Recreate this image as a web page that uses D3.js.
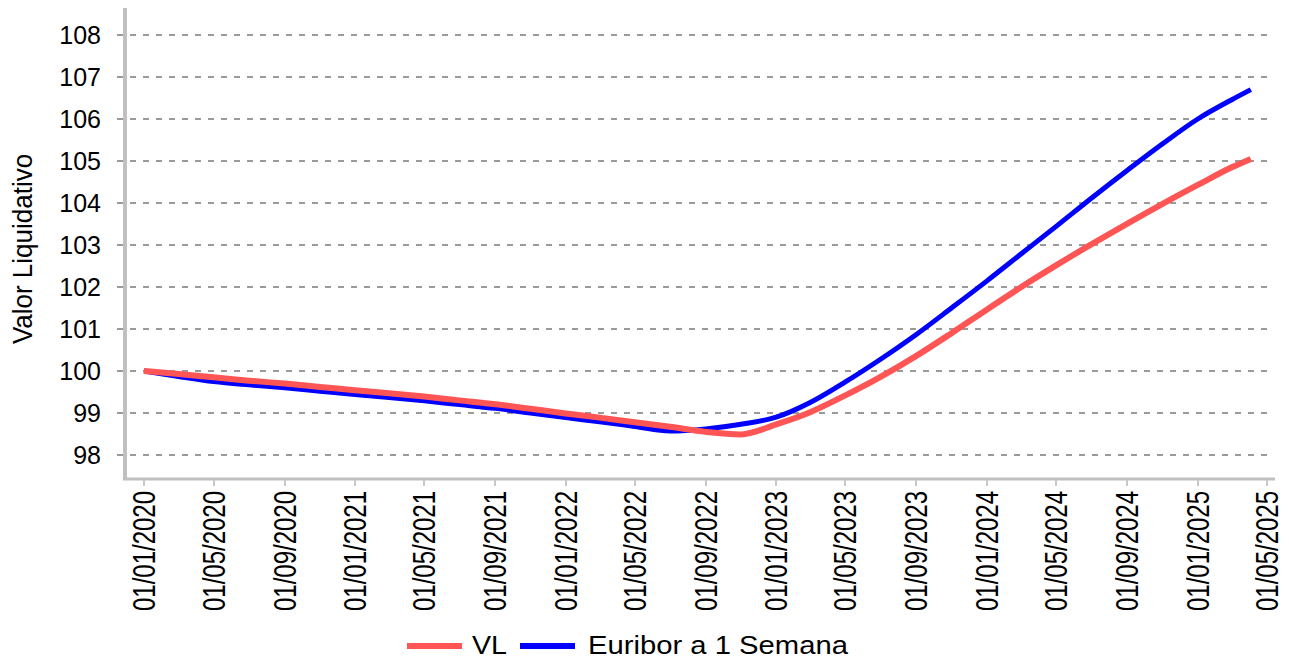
<!doctype html>
<html lang="pt">
<head>
<meta charset="UTF-8">
<title>Valor Liquidativo</title>
<script src="https://d3js.org/d3.v7.min.js"></script>
<style>
  body { margin: 0; background: #fff; }
  text { font-family: "Liberation Sans", Arial, sans-serif; fill: #000; }
</style>
</head>
<body>
<div id="chart-area"></div>
<script>

// data
const dates = [
  '2020-01-01', '2020-03-01', '2020-05-01', '2020-07-01', '2020-09-01', '2020-11-01',
  '2021-01-01', '2021-03-01', '2021-05-01', '2021-07-01', '2021-09-01', '2021-11-01',
  '2022-01-01', '2022-03-01', '2022-05-01', '2022-07-01', '2022-09-01', '2022-11-01',
  '2023-01-01', '2023-03-01', '2023-05-01', '2023-07-01', '2023-09-01', '2023-11-01',
  '2024-01-01', '2024-03-01', '2024-05-01', '2024-07-01', '2024-09-01', '2024-11-01',
  '2025-01-01', '2025-03-01', '2025-04-03'
];
const vl = [
  100.00, 99.93, 99.85, 99.77, 99.70, 99.62,
  99.54, 99.47, 99.39, 99.30, 99.21, 99.10,
  98.99, 98.89, 98.78, 98.67, 98.55, 98.49,
  98.73, 99.02, 99.42, 99.86, 100.36, 100.90,
  101.46, 102.00, 102.52, 103.02, 103.51, 103.98,
  104.43, 104.85, 105.05
];
const euribor = [
  100.00, 99.87, 99.75, 99.67, 99.60, 99.52,
  99.44, 99.37, 99.29, 99.20, 99.11, 99.00,
  98.89, 98.79, 98.68, 98.57, 98.62, 98.73,
  98.90, 99.25, 99.74, 100.28, 100.87, 101.50,
  102.14, 102.79, 103.45, 104.12, 104.78, 105.41,
  106.00, 106.46, 106.70
];
const seriesNames = ['VL', 'Euribor a 1 Semana'];
const seriesColors = ['#ff5555', '#0000ff'];
const yTicks = [98, 99, 100, 101, 102, 103, 104, 105, 106, 107, 108];
const xTicks = [
  '2020-01-01', '2020-05-01', '2020-09-01', '2021-01-01', '2021-05-01', '2021-09-01',
  '2022-01-01', '2022-05-01', '2022-09-01', '2023-01-01', '2023-05-01', '2023-09-01',
  '2024-01-01', '2024-05-01', '2024-09-01', '2025-01-01', '2025-05-01'
];
const yTitle = 'Valor Liquidativo';

const W = 1289, H = 660;
const parse = d3.utcParse('%Y-%m-%d');
const fmt = d3.utcFormat('%d/%m/%Y');

const svg = d3.select('#chart-area')
    .append('svg')
    .attr('width', W)
    .attr('height', H);

svg.append('rect').attr('width', W).attr('height', H).attr('fill', '#fff');

const x = d3.scaleUtc()
    .domain([parse(xTicks[0]), parse(xTicks[xTicks.length - 1])])
    .range([144, 1267]);

const y = d3.scaleLinear()
    .domain([97.452, 108.643])
    .range([478, 8]);

// grid
svg.append('g')
    .selectAll('line')
    .data(yTicks)
    .enter()
    .append('line')
        .attr('x1', 117)
        .attr('x2', 1272)
        .attr('y1', d => y(d))
        .attr('y2', d => y(d))
        .attr('stroke', '#9a9a9a')
        .attr('stroke-width', 2)
        .attr('stroke-dasharray', '6,7');

// y labels
svg.append('g')
    .selectAll('text')
    .data(yTicks)
    .enter()
    .append('text')
        .attr('x', 101)
        .attr('y', d => y(d))
        .attr('dy', '0.36em')
        .attr('text-anchor', 'end')
        .style('font-size', '25px')
        .text(d => d);

// axis lines
svg.append('line')
    .attr('x1', 125).attr('x2', 125).attr('y1', 8).attr('y2', 480)
    .attr('stroke', '#c0c0c0').attr('stroke-width', 4);
svg.append('line')
    .attr('x1', 123).attr('x2', 1275).attr('y1', 479).attr('y2', 479)
    .attr('stroke', '#c0c0c0').attr('stroke-width', 3);

// x ticks + rotated labels
const xg = svg.append('g')
    .selectAll('g')
    .data(xTicks.map(parse))
    .enter()
    .append('g')
        .attr('transform', d => `translate(${Math.round(x(d))},0)`);

xg.append('line')
    .attr('y1', 480).attr('y2', 486)
    .attr('stroke', '#c8c8c8').attr('stroke-width', 2);

xg.append('text')
    .attr('transform', 'translate(0,491) scale(1.28,1) rotate(-90)')
    .attr('text-anchor', 'end')
    .attr('dy', '0.36em')
    .style('font-size', '24px')
    .text(d => fmt(d));

// y title
svg.append('text')
    .attr('transform', 'translate(32,249) scale(1.08,1) rotate(-90)')
    .attr('text-anchor', 'middle')
    .style('font-size', '26px')
    .text(yTitle);

// lines
const line = d3.line()
    .x(d => x(d.date))
    .y(d => y(d.value))
    .curve(d3.curveMonotoneX);

const blueData = dates.map((d, i) => ({ date: parse(d), value: euribor[i] }));
const redData = dates.map((d, i) => ({ date: parse(d), value: vl[i] }));

svg.append('path')
    .datum(blueData)
    .attr('d', line)
    .attr('fill', 'none')
    .attr('stroke', seriesColors[1])
    .attr('stroke-width', 5);

svg.append('path')
    .datum(redData)
    .attr('d', line)
    .attr('fill', 'none')
    .attr('stroke', seriesColors[0])
    .attr('stroke-width', 6);

// legend
const legend = [
  { name: seriesNames[0], color: seriesColors[0], x1: 407, tx: 472, len: 35 },
  { name: seriesNames[1], color: seriesColors[1], x1: 520, tx: 588, len: 260 }
];
const lg = svg.append('g')
    .selectAll('g')
    .data(legend)
    .enter()
    .append('g');

lg.append('line')
    .attr('x1', d => d.x1)
    .attr('x2', d => d.x1 + 55)
    .attr('y1', 646)
    .attr('y2', 646)
    .attr('stroke', d => d.color)
    .attr('stroke-width', 6);

lg.append('text')
    .attr('x', d => d.tx)
    .attr('y', 654)
    .attr('textLength', d => d.len)
    .attr('lengthAdjust', 'spacingAndGlyphs')
    .style('font-size', '26px')
    .text(d => d.name);

</script>
</body>
</html>
